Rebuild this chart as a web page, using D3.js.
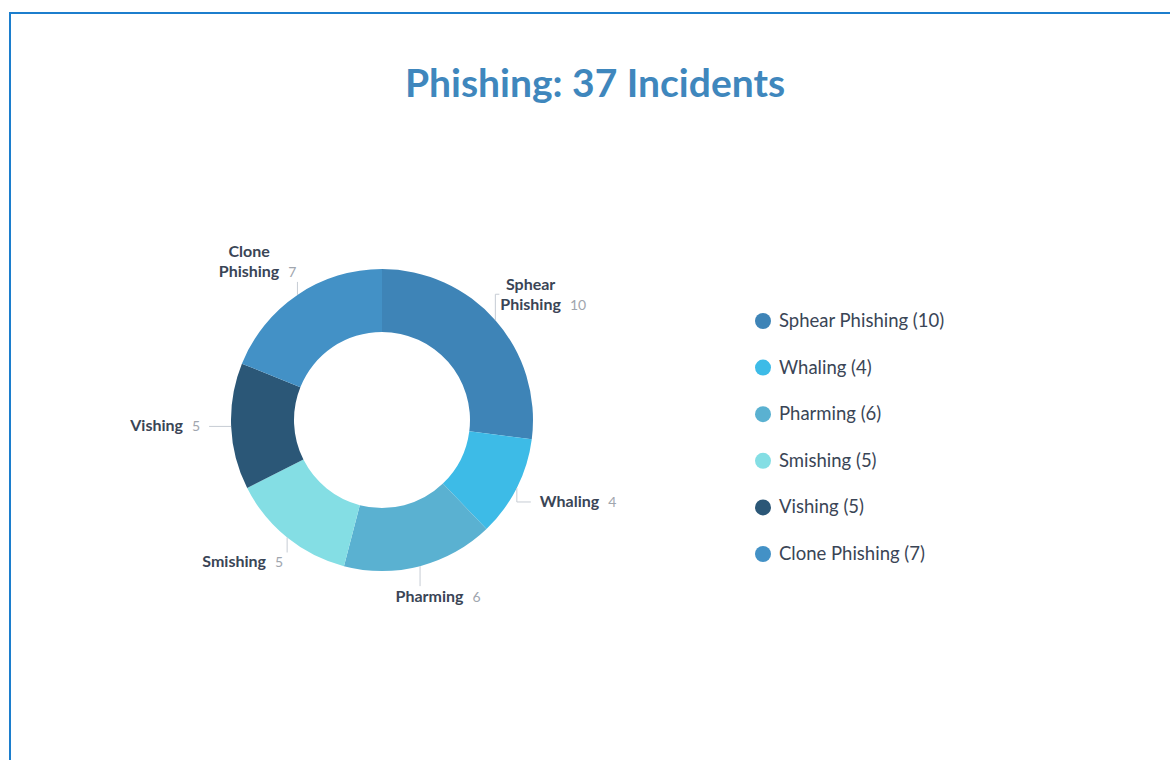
<!DOCTYPE html>
<html>
<head>
<meta charset="utf-8">
<script src="https://cdn.jsdelivr.net/npm/d3@7"></script>
<style>
  html, body { margin: 0; padding: 0; background: #ffffff; }
  svg { display: block; font-family: Lato, "Open Sans", sans-serif; }
</style>
</head>
<body>
<svg id="chart" width="1170" height="760"></svg>
<script>
// Phishing incidents by type
const titleText = "Phishing: 37 Incidents";
const categories = ["Sphear Phishing", "Whaling", "Pharming", "Smishing", "Vishing", "Clone Phishing"];
const values = [10, 4, 6, 5, 5, 7];
const labelLines = [["Sphear", "Phishing"], ["Whaling"], ["Pharming"], ["Smishing"], ["Vishing"], ["Clone", "Phishing"]];
const colors = ["#3e84b7", "#3dbbe7", "#5ab1d1", "#84dee4", "#2b5777", "#4391c6"];

const svg = d3.select("#chart");
const W = 1170, H = 760;

// frame lines along the top and left edges
svg.append("path")
  .attr("d", `M10,${H} V13 H${W}`)
  .attr("fill", "none")
  .attr("stroke", "#1c7ecd")
  .attr("stroke-width", 2);

// title
svg.append("text")
  .attr("x", 595)
  .attr("y", 97)
  .attr("text-anchor", "middle")
  .attr("fill", "#3f87bd")
  .attr("font-size", 39)
  .attr("font-weight", 700)
  .text(titleText);

// donut
const cx = 382, cy = 420, rOuter = 151, rInner = 88;
const pie = d3.pie().sort(null).value(d => d.value);
const data = categories.map((c, i) => ({ name: c, value: values[i], lines: labelLines[i], color: colors[i] }));
const arcs = pie(data);
const arc = d3.arc().innerRadius(rInner).outerRadius(rOuter);

const g = svg.append("g").attr("transform", `translate(${cx},${cy})`);
g.selectAll("path.slice")
  .data(arcs)
  .join("path")
  .attr("class", "slice")
  .attr("d", arc)
  .attr("fill", d => d.data.color);

// leader lines and labels
const lineColor = "#c6ccd4";
const deg = 180 / Math.PI;

arcs.forEach(d => {
  const mid = (d.startAngle + d.endAngle) / 2;
  const m = mid * deg;
  const px = rOuter * Math.sin(mid);
  const py = -rOuter * Math.cos(mid);
  let pts, align, ax, ay;
  if (m < 90) {
    // upper right: up, then a short tick to the right
    const ey = py - 26;
    pts = [[px, py], [px, ey], [px + 4, ey]];
    align = "start"; ax = px + 5; ay = ey + 16;
  } else if (m < 150) {
    // lower right: down, then out to the right
    const ey = py + 14, ex = px + 14;
    pts = [[px, py], [px, ey], [ex, ey]];
    align = "start"; ax = ex + 9; ay = ey + 5;
  } else if (m < 200) {
    // bottom: straight down
    const ey = py + 20;
    pts = [[px, py], [px, ey]];
    align = "middle"; ax = px + 18; ay = ey + 16;
  } else if (m < 250) {
    // lower left: down, label below to the left
    const ey = py + 15;
    pts = [[px, py], [px, ey]];
    align = "end"; ax = px - 4; ay = ey + 15;
  } else if (m < 290) {
    // left: straight out to the left
    const ex = px - 22;
    pts = [[px, py], [ex, py]];
    align = "end"; ax = ex - 9; ay = py + 5;
  } else {
    // upper left: up, label above to the left
    const ey = py - 13;
    pts = [[px, py], [px, ey]];
    align = "end"; ax = px - 1; ay = ey - 5;
  }

  g.append("path")
    .attr("d", d3.line()(pts))
    .attr("fill", "none")
    .attr("stroke", lineColor)
    .attr("stroke-width", 1);

  const lg = g.append("g");
  const lines = d.data.lines;
  const lh = 20;
  const nameTexts = lines.map((t, i) =>
    lg.append("text")
      .attr("x", 0)
      .attr("y", (i - (lines.length - 1)) * lh)
      .attr("text-anchor", "middle")
      .attr("font-size", 16)
      .attr("font-weight", 700)
      .attr("fill", "#3a4556")
      .text(t)
  );
  const lastW = nameTexts[nameTexts.length - 1].node().getComputedTextLength();
  lg.append("text")
    .attr("x", lastW / 2 + 9)
    .attr("y", 0)
    .attr("font-size", 14)
    .attr("fill", "#a0a6ae")
    .text(d.data.value);

  const bb = lg.node().getBBox();
  let tx;
  if (align === "start") tx = ax - bb.x;
  else if (align === "end") tx = ax - (bb.x + bb.width);
  else tx = ax - (bb.x + bb.width / 2);
  lg.attr("transform", `translate(${tx},${ay})`);
});

// legend
const legend = svg.append("g");
const legendY = d3.scalePoint().domain(categories).range([321, 554]);
const rows = legend.selectAll("g.row")
  .data(data)
  .join("g")
  .attr("class", "row")
  .attr("transform", d => `translate(763,${legendY(d.name)})`);
rows.append("circle")
  .attr("r", 8)
  .attr("fill", d => d.color);
rows.append("text")
  .attr("x", 16)
  .attr("y", 6)
  .attr("font-size", 18.5)
  .attr("fill", "#3a4556")
  .text(d => `${d.name} (${d.value})`);
</script>
</body>
</html>
